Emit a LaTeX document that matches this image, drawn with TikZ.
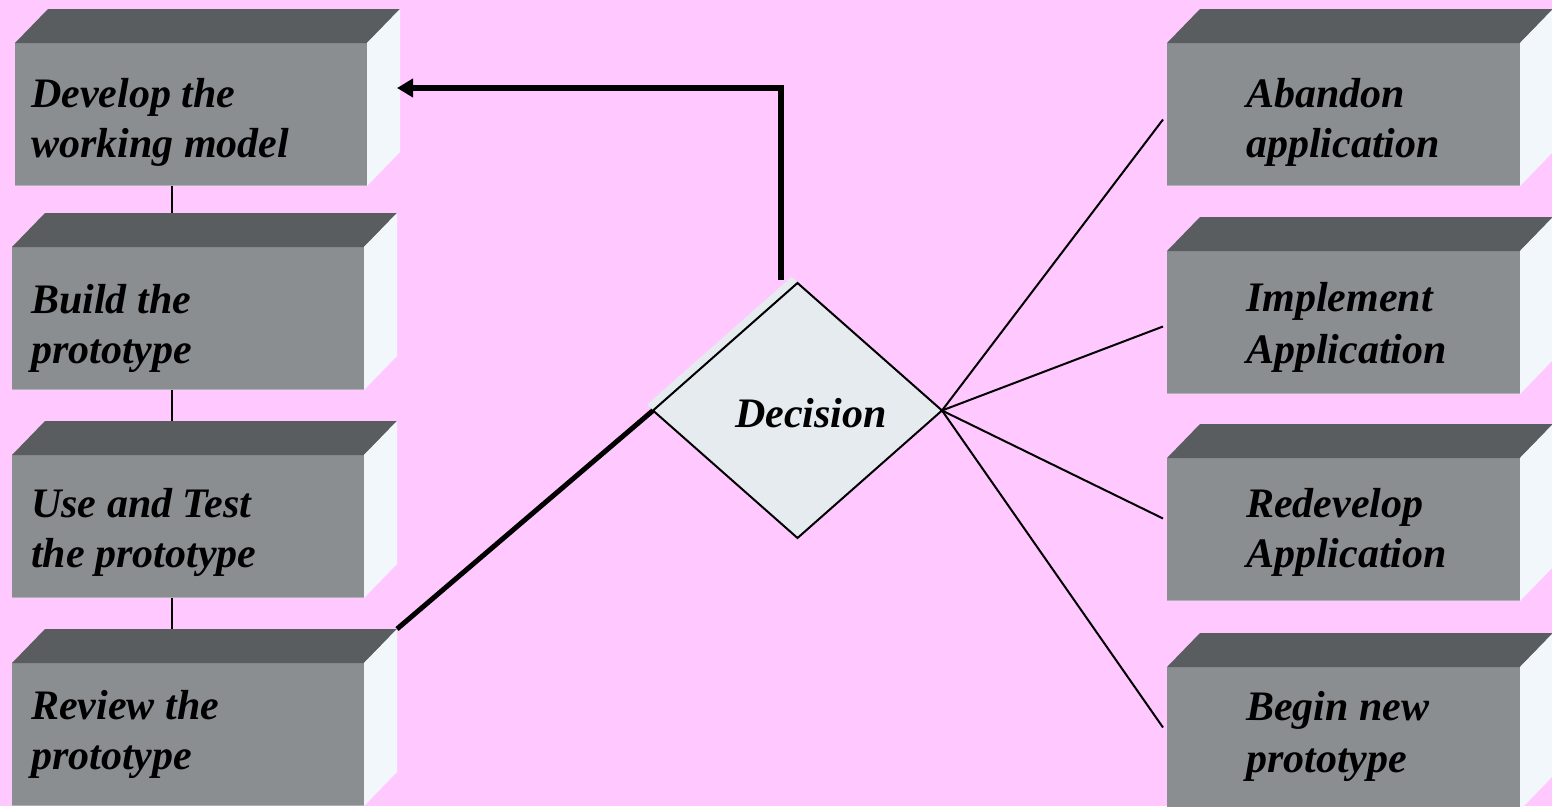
\documentclass[tikz,border=0pt]{standalone}
\usepackage{fontspec}
\setmainfont{Liberation Serif}
\usetikzlibrary{shapes.geometric,arrows.meta,calc}

\definecolor{bgpink}{RGB}{255,201,255}
\definecolor{facefront}{RGB}{139,142,145}
\definecolor{facetop}{RGB}{90,93,96}
\definecolor{faceside}{RGB}{242,247,251}
\definecolor{faceedge}{RGB}{175,177,180}
\definecolor{diamondfill}{RGB}{230,235,239}

\tikzset{
  front/.style={rectangle, fill=facefront, minimum width=352pt, minimum height=143pt,
                inner sep=0pt, outer sep=0pt, anchor=north west},
  lbl/.style={font=\fontsize{42}{50}\selectfont\bfseries\itshape, inner sep=0pt, anchor=base west},
  link/.style={draw=black, line width=2pt},
  heavy/.style={draw=black, line width=5pt},
  backarrow/.style={draw=black, line width=6pt, -{Triangle[length=16pt,width=18pt]}},
  choice/.style={diamond, minimum width=289pt, minimum height=255pt, inner sep=0pt, outer sep=0pt}
}

% draws the top and side faces of a block whose front face is node #1
\newcommand{\blockfaces}[1]{%
  \fill[facetop] (#1.north west) -- ++(33pt,34pt) -- ([shift={(33pt,34pt)}]#1.north east)
      -- (#1.north east) -- cycle;
  \fill[faceside] (#1.north east) -- ++(33pt,34pt) -- ([shift={(33pt,34pt)}]#1.south east)
      -- (#1.south east) -- cycle;
  \draw[faceedge, line width=1pt] ([yshift=0.5pt]#1.south west) -- ([yshift=0.5pt]#1.south east);
}

\begin{document}
\begin{tikzpicture}[x=1pt,y=1pt]
  \fill[bgpink] (0,0) rectangle (1552,-806);
  \useasboundingbox (0,0) rectangle (1552,-806);
  \clip (0,0) rectangle (1552,-806);

  % process steps on the left
  \node[front] (b1) at (15,-43) {};
  \node[front] (b2) at (12,-247) {};
  \node[front] (b3) at (12,-455) {};
  \node[front] (b4) at (12,-663) {};
  \blockfaces{b1}\blockfaces{b2}\blockfaces{b3}\blockfaces{b4}

  % outcomes on the right
  \node[front, minimum width=353pt] (rA) at (1167,-43) {};
  \node[front, minimum width=353pt] (rI) at (1167,-251) {};
  \node[front, minimum width=353pt] (rR) at (1167,-458) {};
  \node[front, minimum width=353pt] (rB) at (1167,-667) {};
  \blockfaces{rA}\blockfaces{rI}\blockfaces{rR}\blockfaces{rB}

  % labels
  \node[lbl] (t1a) at (31,-107) {Develop the};
  \node[lbl] (t1b) at (31,-157) {working model};
  \node[lbl] (t2a) at (31,-313) {Build the};
  \node[lbl] (t2b) at (31,-363) {prototype};
  \node[lbl] (t3a) at (31,-517) {Use and Test};
  \node[lbl] (t3b) at (31,-567) {the prototype};
  \node[lbl] (t4a) at (31,-719) {Review the};
  \node[lbl] (t4b) at (31,-769) {prototype};

  \node[lbl] (uAa) at (1246,-107) {Abandon};
  \node[lbl] (uAb) at (1246,-157) {application};
  \node[lbl] (uIa) at (1246,-311) {Implement};
  \node[lbl] (uIb) at (1246,-363) {Application};
  \node[lbl] (uRa) at (1246,-517) {Redevelop};
  \node[lbl] (uRb) at (1246,-567) {Application};
  \node[lbl] (uBa) at (1246,-720) {Begin new};
  \node[lbl] (uBb) at (1246,-772) {prototype};

  % links between the steps
  \draw[link] ([xshift=-19pt]b1.south) -- ([xshift=-16pt,yshift=34pt]b2.north);
  \draw[link] ([xshift=-16pt]b2.south) -- ([xshift=-16pt,yshift=34pt]b3.north);
  \draw[link] ([xshift=-16pt]b3.south) -- ([xshift=-16pt,yshift=34pt]b4.north);

  % decision point with its light offset shadow
  \node[choice, fill=diamondfill] (decshadow) at (791.5,-404.5) {};
  \node[choice, fill=diamondfill, draw=black, line width=2pt] (dec) at (797.5,-410.5) {};
  \node[lbl] (dect) at (735,-427) {Decision};

  % review feeds the decision
  \coordinate (b4corner) at ([shift={(33pt,34pt)}]b4.north east);
  \draw[heavy] (b4corner) -- (dec.west);

  % loop back to the working model
  \coordinate (b1in) at (397,-88);
  \draw[backarrow] ([xshift=-17pt,yshift=3pt]dec.north) |- (b1in);

  % branches to the outcomes
  \draw[link] (dec.east) -- ([xshift=-4pt,yshift=-5pt]rA.west);
  \draw[link] (dec.east) -- ([xshift=-4pt,yshift=-4pt]rI.west);
  \draw[link] (dec.east) -- ([xshift=-4pt,yshift=11pt]rR.west);
  \draw[link] (dec.east) -- ([xshift=-4pt,yshift=11pt]rB.west);
\end{tikzpicture}
\end{document}
